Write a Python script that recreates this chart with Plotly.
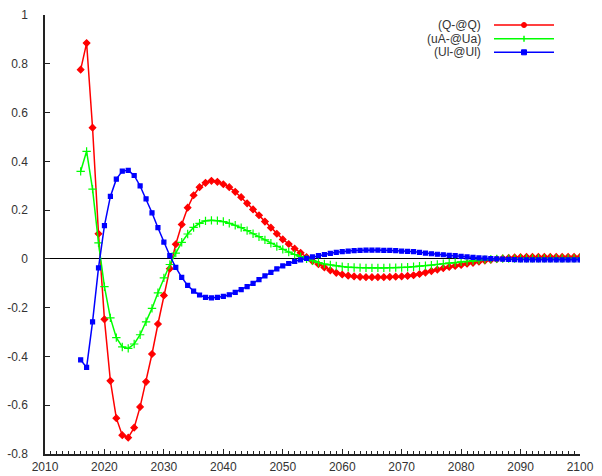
import plotly.graph_objects as go

years = list(range(2016, 2101))

q_vals = [0.776, 0.885, 0.538, 0.103, -0.248, -0.500, -0.653, -0.723, -0.733, -0.692,
          -0.607, -0.504, -0.390, -0.267, -0.150, -0.040, 0.060, 0.141, 0.210, 0.261,
          0.294, 0.312, 0.320, 0.316, 0.306, 0.294, 0.275, 0.253, 0.228, 0.203,
          0.179, 0.153, 0.128, 0.103, 0.080, 0.061, 0.042, 0.025, 0.007, -0.009,
          -0.022, -0.035, -0.047, -0.057, -0.064, -0.069, -0.072, -0.074, -0.075, -0.075,
          -0.075, -0.075, -0.074, -0.073, -0.072, -0.070, -0.067, -0.062, -0.056, -0.050,
          -0.044, -0.038, -0.033, -0.029, -0.025, -0.020, -0.016, -0.011, -0.007, -0.004,
          -0.001, 0.002, 0.004, 0.006, 0.007, 0.008, 0.008, 0.008, 0.008, 0.008,
          0.008, 0.008, 0.008, 0.008, 0.008]

ua_vals = [0.359, 0.441, 0.286, 0.066, -0.114, -0.242, -0.323, -0.361, -0.367, -0.349,
           -0.311, -0.258, -0.203, -0.139, -0.078, -0.023, 0.024, 0.068, 0.102, 0.129,
           0.146, 0.156, 0.158, 0.157, 0.153, 0.146, 0.138, 0.128, 0.116, 0.103,
           0.091, 0.078, 0.064, 0.051, 0.039, 0.028, 0.018, 0.009, 0.000, -0.008,
           -0.015, -0.021, -0.025, -0.029, -0.032, -0.034, -0.035, -0.036, -0.037, -0.037,
           -0.037, -0.037, -0.036, -0.036, -0.035, -0.034, -0.032, -0.030, -0.028, -0.026,
           -0.023, -0.020, -0.017, -0.015, -0.012, -0.010, -0.007, -0.005, -0.003, -0.001,
           0.000, 0.001, 0.001, 0.001, 0.002, 0.002, 0.002, 0.002, 0.002, 0.002,
           0.002, 0.002, 0.002, 0.002, 0.002]

ul_vals = [-0.414, -0.445, -0.258, -0.037, 0.136, 0.256, 0.327, 0.360, 0.363, 0.342,
           0.299, 0.246, 0.189, 0.128, 0.069, 0.013, -0.035, -0.076, -0.109, -0.132,
           -0.148, -0.158, -0.160, -0.158, -0.154, -0.147, -0.137, -0.126, -0.114, -0.100,
           -0.085, -0.070, -0.055, -0.041, -0.029, -0.019, -0.010, -0.004, 0.002, 0.008,
           0.013, 0.018, 0.023, 0.027, 0.030, 0.032, 0.034, 0.035, 0.036, 0.036,
           0.036, 0.035, 0.035, 0.034, 0.032, 0.031, 0.030, 0.027, 0.024, 0.021,
           0.019, 0.017, 0.014, 0.013, 0.010, 0.008, 0.006, 0.004, 0.003, 0.001,
           0.000, -0.001, -0.002, -0.003, -0.004, -0.004, -0.004, -0.004, -0.004, -0.004,
           -0.004, -0.004, -0.004, -0.004, -0.004]

series_names = ["(Q-@Q)", "(uA-@Ua)", "(Ul-@Ul)"]
series_colors = ["#ff0000", "#00ff00", "#0000ff"]
series_symbols = ["diamond", "cross-thin", "square"]
series_sizes = [5, 6, 4]

x_ticks = list(range(2010, 2101, 10))
y_ticks = [-0.8, -0.6, -0.4, -0.2, 0, 0.2, 0.4, 0.6, 0.8, 1]
y_tick_labels = ["-0.8", "-0.6", "-0.4", "-0.2", "0", "0.2", "0.4", "0.6", "0.8", "1"]

FONT = "Liberation Sans, Arial, Helvetica, sans-serif"

FW, FH = 602, 476
L, R, T, B = 45, 22, 15, 22
PW, PH = FW - L - R, FH - T - B

fig = go.Figure()
for name, vals, col, sym, sz in zip(series_names, [q_vals, ua_vals, ul_vals],
                                    series_colors, series_symbols, series_sizes):
    fig.add_trace(go.Scatter(
        x=years, y=vals, name=name, mode="lines+markers",
        line=dict(color=col, width=1.5),
        marker=dict(symbol=sym, size=sz, color=col, line=dict(color=col, width=1.2)),
        showlegend=False,
    ))

def px(x):
    return (x - L) / PW
def py(y):
    return (FH - B - y) / PH

shapes = []
annotations = []
key_rows = [25, 38.7, 52.3]
for name, col, sym, ry in zip(series_names, series_colors, series_symbols, key_rows):
    annotations.append(dict(
        xref="paper", yref="paper", x=px(483), y=py(ry), text=name, showarrow=False,
        xanchor="right", yanchor="middle", font=dict(family=FONT, size=12, color="#333333")))
    shapes.append(dict(type="line", xref="paper", yref="paper",
                       x0=px(494), x1=px(554), y0=py(ry), y1=py(ry),
                       line=dict(color=col, width=1.5)))
    if sym == "diamond":
        shapes.append(dict(type="circle", xref="paper", yref="paper",
                           xsizemode="pixel", ysizemode="pixel",
                           xanchor=px(524), yanchor=py(ry), x0=-2.5, x1=2.5, y0=-2.5, y1=2.5,
                           fillcolor=col, line=dict(color=col, width=1)))
    elif sym == "square":
        shapes.append(dict(type="rect", xref="paper", yref="paper",
                           xsizemode="pixel", ysizemode="pixel",
                           xanchor=px(524), yanchor=py(ry), x0=-2.5, x1=2.5, y0=-2.5, y1=2.5,
                           fillcolor=col, line=dict(color=col, width=1)))
    else:
        shapes.append(dict(type="line", xref="paper", yref="paper",
                           xsizemode="pixel", ysizemode="pixel",
                           xanchor=px(524), yanchor=py(ry), x0=0, x1=0, y0=-3, y1=3,
                           line=dict(color=col, width=1.5)))

fig.update_layout(
    template="none",
    width=FW, height=FH, autosize=False,
    margin=dict(l=L, r=R, t=T, b=B, pad=0, autoexpand=False),
    paper_bgcolor="white", plot_bgcolor="white",
    font=dict(family=FONT, size=12, color="#333333"),
    shapes=shapes, annotations=annotations,
    showlegend=False,
)
fig.update_xaxes(
    range=[2010, 2100], tickvals=x_ticks, ticktext=[str(v) for v in x_ticks],
    ticks="inside", ticklen=5, tickwidth=1, tickcolor="#222222",
    minor=dict(dtick=1, ticks="inside", ticklen=3, tickwidth=1, tickcolor="#222222",
               showgrid=False),
    showline=True, linecolor="#222222", linewidth=1.5, mirror=False,
    showgrid=False, zeroline=False, ticklabelstandoff=1, automargin=False,
    tickfont=dict(family=FONT, size=12, color="#333333"),
)
fig.update_yaxes(
    range=[-0.8, 1], tickvals=y_ticks, ticktext=y_tick_labels,
    ticks="inside", ticklen=5, tickwidth=1, tickcolor="#222222",
    showline=True, linecolor="#222222", linewidth=1.5, mirror=False,
    showgrid=False, zeroline=True, zerolinecolor="#000000", zerolinewidth=1,
    ticklabelstandoff=13, automargin=False,
    tickfont=dict(family=FONT, size=12, color="#333333"),
)

fig.write_html(
    "out.html",
    config={"displayModeBar": False},
    post_script="document.body.style.margin='0';"
                "document.body.style.overflow='hidden';"
                "document.documentElement.style.overflow='hidden';",
)
